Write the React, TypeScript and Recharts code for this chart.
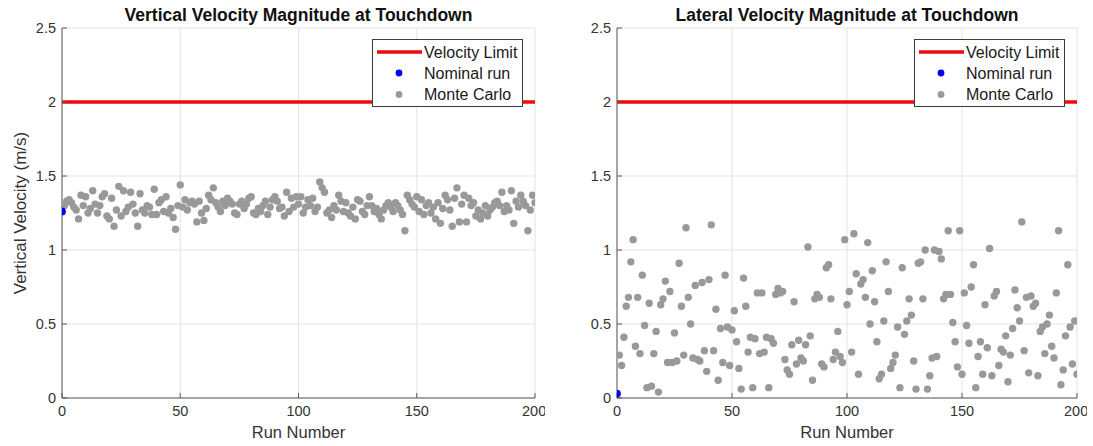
import React from "react";
import {
  ScatterChart,
  Scatter,
  XAxis,
  YAxis,
  CartesianGrid,
  ReferenceLine,
} from "recharts";

// Touchdown velocity magnitudes, one value per Monte Carlo run (runs 1..200)
const verticalMonteCarlo: number[] = [
  1.30, 1.33, 1.34, 1.32, 1.29, 1.27, 1.21, 1.37, 1.30, 1.36,
  1.25, 1.28, 1.40, 1.31, 1.25, 1.30, 1.36, 1.38, 1.23, 1.21,
  1.35, 1.16, 1.27, 1.43, 1.23, 1.40, 1.26, 1.29, 1.39, 1.31,
  1.25, 1.16, 1.38, 1.27, 1.25, 1.30, 1.29, 1.24, 1.41, 1.24,
  1.32, 1.34, 1.26, 1.36, 1.25, 1.28, 1.22, 1.14, 1.30, 1.44,
  1.29, 1.34, 1.27, 1.32, 1.33, 1.31, 1.19, 1.33, 1.25, 1.20,
  1.28, 1.37, 1.34, 1.42, 1.32, 1.29, 1.26, 1.33, 1.30, 1.35,
  1.33, 1.31, 1.25, 1.24, 1.31, 1.33, 1.28, 1.31, 1.35, 1.36,
  1.25, 1.24, 1.28, 1.26, 1.30, 1.33, 1.24, 1.29, 1.34, 1.36,
  1.33, 1.28, 1.29, 1.23, 1.39, 1.26, 1.35, 1.29, 1.36, 1.31,
  1.36, 1.25, 1.29, 1.34, 1.30, 1.35, 1.26, 1.29, 1.46, 1.42,
  1.39, 1.25, 1.27, 1.22, 1.30, 1.27, 1.37, 1.33, 1.26, 1.32,
  1.25, 1.23, 1.29, 1.21, 1.34, 1.33, 1.26, 1.24, 1.30, 1.36,
  1.30, 1.26, 1.28, 1.24, 1.21, 1.27, 1.30, 1.32, 1.29, 1.26,
  1.32, 1.30, 1.27, 1.24, 1.13, 1.37, 1.34, 1.31, 1.29, 1.36,
  1.26, 1.34, 1.24, 1.30, 1.32, 1.25, 1.29, 1.21, 1.32, 1.18,
  1.28, 1.37, 1.34, 1.27, 1.16, 1.35, 1.42, 1.19, 1.31, 1.37,
  1.19, 1.35, 1.30, 1.32, 1.23, 1.27, 1.21, 1.25, 1.30, 1.23,
  1.27, 1.29, 1.32, 1.33, 1.30, 1.39, 1.26, 1.30, 1.27, 1.40,
  1.18, 1.33, 1.29, 1.37, 1.33, 1.30, 1.13, 1.27, 1.37, 1.32,
];

const lateralMonteCarlo: number[] = [
  0.29, 0.22, 0.41, 0.62, 0.68, 0.92, 1.07, 0.35, 0.68, 0.30,
  0.83, 0.49, 0.07, 0.64, 0.08, 0.30, 0.45, 0.04, 0.63, 0.67,
  0.79, 0.24, 0.72, 0.24, 0.44, 0.25, 0.91, 0.62, 0.29, 1.15,
  0.68, 0.50, 0.27, 0.76, 0.26, 0.25, 0.78, 0.32, 0.18, 0.80,
  1.17, 0.32, 0.60, 0.12, 0.47, 0.24, 0.83, 0.48, 0.22, 0.46,
  0.59, 0.38, 0.20, 0.06, 0.81, 0.62, 0.31, 0.41, 0.07, 0.40,
  0.71, 0.30, 0.71, 0.31, 0.41, 0.07, 0.40, 0.37, 0.70, 0.74,
  0.71, 0.72, 0.26, 0.19, 0.16, 0.36, 0.65, 0.23, 0.39, 0.27,
  0.25, 0.36, 1.02, 0.42, 0.12, 0.67, 0.70, 0.68, 0.23, 0.21,
  0.88, 0.90, 0.67, 0.26, 0.31, 0.45, 0.28, 0.24, 1.07, 0.63,
  0.72, 0.31, 1.11, 0.84, 0.16, 0.77, 0.80, 0.68, 1.05, 0.50,
  0.86, 0.65, 0.38, 0.13, 0.16, 0.52, 0.92, 0.72, 0.20, 0.24,
  0.29, 0.48, 0.07, 0.88, 0.43, 0.52, 0.67, 0.56, 0.25, 0.06,
  0.91, 0.92, 0.67, 1.00, 0.06, 0.15, 0.27, 1.00, 0.28, 0.99,
  0.94, 0.67, 0.70, 1.13, 0.70, 0.51, 0.38, 0.21, 1.13, 0.16,
  0.71, 0.49, 0.37, 0.75, 0.90, 0.07, 0.28, 0.38, 0.16, 0.63,
  0.34, 1.01, 0.15, 0.69, 0.72, 0.22, 0.33, 0.31, 0.42, 0.11,
  0.29, 0.47, 0.73, 0.61, 0.52, 1.19, 0.32, 0.68, 0.17, 0.69,
  0.62, 0.64, 0.15, 0.45, 0.48, 0.30, 0.50, 0.56, 0.35, 0.27,
  0.71, 1.13, 0.09, 0.19, 0.42, 0.90, 0.48, 0.23, 0.52, 0.16,
];

// Nominal (run 0) results
const nominalRun = 0;
const verticalNominal = 1.26;
const lateralNominal = 0.03;

const velocityLimit = 2;

const runTicks = [0, 50, 100, 150, 200];
const velocityTicks = [0, 0.5, 1, 1.5, 2, 2.5];

const legendLabels = ["Velocity Limit", "Nominal run", "Monte Carlo"];

const FONT = '"Liberation Sans", Arial, Helvetica, sans-serif';
const RED = "#ee0a0a";
const BLUE = "#0000f5";
const GRAY = "#999999";
const AXIS = "#5a5a5a";
const TEXT = "#333333";

const toPoints = (values: number[]) =>
  values.map((v, i) => ({ x: i + 1, y: v }));

const makeDot = (fill: string, r: number) => (props: any) =>
  props.cx == null || props.cy == null ? (
    <g />
  ) : (
    <circle cx={props.cx} cy={props.cy} r={r} fill={fill} />
  );

const MonteCarloDot = makeDot(GRAY, 3.7);
const NominalDot = makeDot(BLUE, 3.9);

type PanelProps = {
  left: number;
  width: number;
  title: string;
  yLabel?: string;
  monteCarlo: number[];
  nominal: number;
};

const PLOT_TOP = 28;
const Y_AXIS_W = 62;
const RIGHT_MARGIN = 10;

function LegendBox({ right }: { right: number }) {
  return (
    <div
      style={{
        position: "absolute",
        top: 39,
        right,
        width: 149,
        height: 66,
        border: "1px solid #3c3c3c",
        background: "#ffffff",
      }}
    >
      <svg
        width={149}
        height={66}
        style={{ position: "absolute", left: 0, top: 0 }}
      >
        <line x1={4} x2={49} y1={12} y2={12} stroke={RED} strokeWidth={3.5} />
        <circle cx={26} cy={33} r={3.4} fill={BLUE} />
        <circle cx={26} cy={54.5} r={3.4} fill={GRAY} />
        {legendLabels.map((label, i) => (
          <text
            key={label}
            x={51}
            y={12 + i * 21.3}
            dominantBaseline="central"
            fontFamily={FONT}
            fontSize={16}
            fill="#1a1a1a"
          >
            {label}
          </text>
        ))}
      </svg>
    </div>
  );
}

function Panel({ left, width, title, yLabel, monteCarlo, nominal }: PanelProps) {
  const plotLeft = Y_AXIS_W;
  const plotRight = width - RIGHT_MARGIN;
  const mcPoints = toPoints(monteCarlo);
  const nominalPoints = [{ x: nominalRun, y: nominal }];

  return (
    <div style={{ position: "absolute", left, top: 0, width, height: 446 }}>
      <div
        style={{
          position: "absolute",
          left: plotLeft - 40,
          width: plotRight - plotLeft + 80,
          top: 5,
          textAlign: "center",
          fontFamily: FONT,
          fontWeight: "bold",
          fontSize: 17.5,
          color: "#111",
          whiteSpace: "nowrap",
        }}
      >
        {title}
      </div>
      <ScatterChart
        width={width}
        height={446}
        margin={{ top: PLOT_TOP, right: RIGHT_MARGIN, bottom: 18, left: 0 }}
      >
        <CartesianGrid stroke="#e3e3e3" strokeWidth={1} />
        <XAxis
          type="number"
          dataKey="x"
          domain={[0, 200]}
          ticks={runTicks}
          allowDataOverflow
          height={30}
          stroke={AXIS}
          tickSize={-5}
          tickMargin={13}
          tick={{ fill: TEXT, fontSize: 14.5, fontFamily: FONT }}
          label={{
            value: "Run Number",
            position: "bottom",
            offset: -2,
            style: { fill: TEXT, fontSize: 16.5, fontFamily: FONT },
          }}
        />
        <YAxis
          type="number"
          dataKey="y"
          domain={[0, 2.5]}
          ticks={velocityTicks}
          allowDataOverflow
          width={Y_AXIS_W}
          stroke={AXIS}
          tickSize={-5}
          tickMargin={11}
          tick={{ fill: TEXT, fontSize: 14.5, fontFamily: FONT }}
          label={
            yLabel
              ? {
                  value: yLabel,
                  angle: -90,
                  position: "insideLeft",
                  offset: 20,
                  style: {
                    textAnchor: "middle",
                    fill: TEXT,
                    fontSize: 17,
                    fontFamily: FONT,
                  },
                }
              : undefined
          }
        />
        <Scatter
          data={mcPoints}
          shape={MonteCarloDot}
          isAnimationActive={false}
        />
        <Scatter
          data={nominalPoints}
          shape={NominalDot}
          isAnimationActive={false}
        />
        <ReferenceLine
          y={velocityLimit}
          stroke={RED}
          strokeWidth={3.5}
          ifOverflow="visible"
        />
      </ScatterChart>
      <LegendBox right={RIGHT_MARGIN + 12} />
    </div>
  );
}

export default function App() {
  return (
    <div
      style={{
        position: "absolute",
        left: 0,
        top: 0,
        width: 1093,
        height: 446,
        background: "#ffffff",
        overflow: "hidden",
      }}
    >
      <Panel
        left={0}
        width={545}
        title="Vertical Velocity Magnitude at Touchdown"
        yLabel="Vertical Velocity (m/s)"
        monteCarlo={verticalMonteCarlo}
        nominal={verticalNominal}
      />
      <Panel
        left={555}
        width={532}
        title="Lateral Velocity Magnitude at Touchdown"
        monteCarlo={lateralMonteCarlo}
        nominal={lateralNominal}
      />
    </div>
  );
}
